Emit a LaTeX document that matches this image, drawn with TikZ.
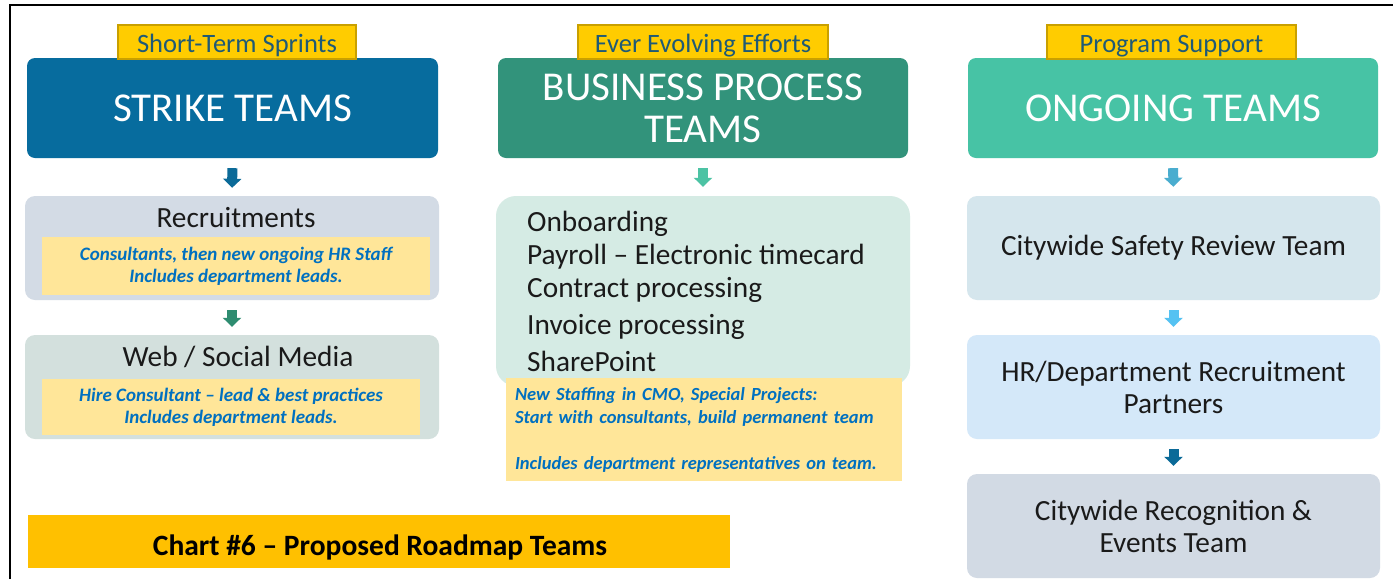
\documentclass[tikz,border=0pt]{standalone}
\usepackage{fontspec}
\setmainfont{Carlito}
\usetikzlibrary{arrows.meta}

\definecolor{tagfill}{HTML}{FFCC00}
\definecolor{tagedge}{HTML}{C9A000}
\definecolor{tagtext}{HTML}{1F5A76}
\definecolor{strikeblue}{HTML}{076C9E}
\definecolor{bizgreen}{HTML}{32937B}
\definecolor{ongoinggreen}{HTML}{47C3A5}
\definecolor{recruitfill}{HTML}{D3DBE5}
\definecolor{webfill}{HTML}{D3E0DD}
\definecolor{procfill}{HTML}{D5EBE4}
\definecolor{safetyfill}{HTML}{D5E6ED}
\definecolor{hrfill}{HTML}{D4E8F9}
\definecolor{recogfill}{HTML}{D2DAE4}
\definecolor{noteyellow}{HTML}{FFE699}
\definecolor{noteblue}{HTML}{0070C0}
\definecolor{titlegold}{HTML}{FFC000}
\definecolor{arrowA}{HTML}{0B6A98}
\definecolor{arrowB}{HTML}{2E8C70}
\definecolor{arrowC}{HTML}{4CC3A4}
\definecolor{arrowD}{HTML}{4AADCF}
\definecolor{arrowE}{HTML}{55C2F2}
\definecolor{bodytext}{HTML}{1A1A1A}

\begin{document}
\begin{tikzpicture}[x=1pt,y=-1pt,
  tag/.style={fill=tagfill, draw=tagedge, line width=1.5pt, text=tagtext,
    font=\fontsize{26.5}{30}\selectfont, minimum height=34pt, inner sep=0pt,
    text height=20pt, text depth=0pt},
  head/.style={rounded corners=8pt, text=white, minimum height=100pt,
    inner sep=0pt, align=center, font=\fontsize{41}{42}\selectfont},
  panel/.style={rounded corners=10pt, minimum height=104pt, inner sep=0pt,
    text=bodytext, align=center, font=\fontsize{29.3}{32}\selectfont},
  caption/.style={text=bodytext, font=\fontsize{29.3}{32}\selectfont, inner sep=0pt},
  note/.style={fill=noteyellow, text=noteblue, inner sep=0pt, align=center,
    font=\bfseries\itshape\fontsize{19}{22}\selectfont},
  listline/.style={anchor=base west, inner sep=0pt, text=bodytext,
    font=\fontsize{29.3}{32}\selectfont},
  flow/.style={line width=10pt, line cap=butt,
    -{Triangle[width=18pt,length=9pt]}, shorten <=10pt, shorten >=8pt}
]
\useasboundingbox (0,0) rectangle (1393,579);
\fill[white] (0,0) rectangle (1393,579);

% page frame (top and left edges)
\draw[line width=2.2pt] (10,579) -- (10,5) -- (1393,5);

% ---------- column 1: strike teams ----------
\node[head, fill=strikeblue, minimum width=411pt] (strike) at (232.5,108) {STRIKE TEAMS};
\node[tag, minimum width=238pt] (tagA) at (237,42) {Short-Term Sprints};

\node[panel, fill=recruitfill, minimum width=414pt] (recruit) at (232,248) {};
\node[caption] (recruitT) at (236,218) {Recruitments};
\node[note, minimum width=388pt, minimum height=58pt] (recruitN) at (236,266)
  {Consultants, then new ongoing HR Staff\\Includes department leads.};

\node[panel, fill=webfill, minimum width=414pt] (web) at (232,387) {};
\node[caption] (webT) at (238,357) {Web / Social Media};
\node[note, minimum width=378pt, minimum height=56pt] (webN) at (231,407)
  {Hire Consultant -- lead \& best practices\\Includes department leads.};

\draw[flow, arrowA] (strike.south) -- (recruit.north);
\draw[flow, arrowB, shorten <=10pt] (recruit.south) -- (web.north);

% chart caption
\node[fill=titlegold, minimum width=702pt, minimum height=53pt, inner sep=0pt,
  font=\bfseries\fontsize{29.5}{32}\selectfont, text=black] (chart) at (379,541.5) {};
\node[anchor=base, inner sep=0pt, font=\bfseries\fontsize{29.5}{32}\selectfont,
  text=black] (chartT) at (380,555) {Chart \#6 -- Proposed Roadmap Teams};

% ---------- column 2: business process teams ----------
\node[head, fill=bizgreen, minimum width=410pt] (biz) at (703,108) {BUSINESS PROCESS\\TEAMS};
\node[tag, minimum width=250pt] (tagB) at (703,42) {Ever Evolving Efforts};

\node[panel, fill=procfill, rounded corners=20pt, minimum width=414pt, minimum height=190pt] (proc) at (703,291) {};
\node[listline] (p1) at (527,231) {Onboarding};
\node[listline] (p2) at (527,264) {Payroll -- Electronic timecard};
\node[listline] (p3) at (527,297) {Contract processing};
\node[listline] (p4) at (527,334) {Invoice processing};
\node[listline] (p5) at (527,371) {SharePoint};

\node[note, align=left, minimum width=396pt, minimum height=103pt,
  text width=378pt, font=\bfseries\itshape\fontsize{18.5}{23}\selectfont] (procN) at (704,429.5)
  {New Staffing in CMO, Special Projects:\\Start with consultants, build permanent team\\[23pt]Includes department representatives on team.};

\draw[flow, arrowC, shorten >=9pt] (biz.south) -- (proc.north);

% ---------- column 3: ongoing teams ----------
\node[head, fill=ongoinggreen, minimum width=410pt] (ongoing) at (1173,108) {ONGOING TEAMS};
\node[tag, minimum width=249pt] (tagC) at (1171.5,42) {Program Support};

\node[panel, fill=safetyfill, minimum width=413pt] (safety) at (1173.5,248) {Citywide Safety Review Team};
\node[panel, fill=hrfill, minimum width=413pt] (hr) at (1173.5,387) {HR/Department Recruitment\\Partners};
\node[panel, fill=recogfill, minimum width=413pt] (recog) at (1173.5,526) {Citywide Recognition \&\\Events Team};

\draw[flow, arrowD, shorten >=9pt] (ongoing.south) -- (safety.north);
\draw[flow, arrowE] (safety.south) -- (hr.north);
\draw[flow, arrowA] (hr.south) -- (recog.north);
\end{tikzpicture}
\end{document}
